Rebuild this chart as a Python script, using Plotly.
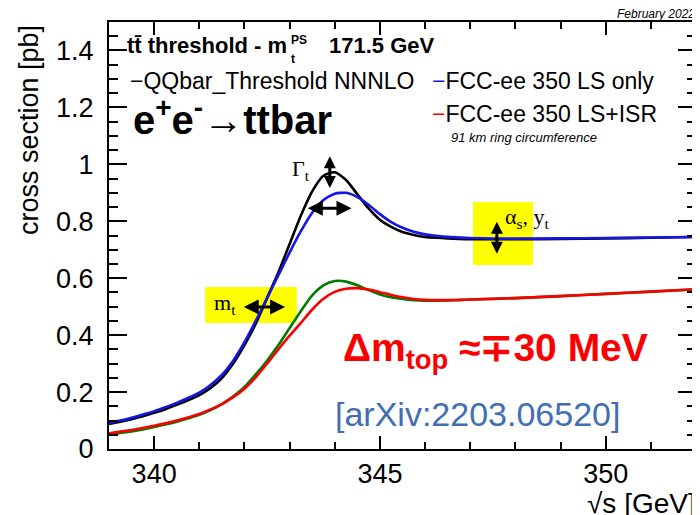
import plotly.graph_objects as go

# ---------------- data ----------------
sqrt_s = [339.00, 339.25, 339.50, 339.75, 340.00, 340.25, 340.50, 340.75,
          341.00, 341.25, 341.50, 341.75, 342.00, 342.25, 342.50, 342.75,
          343.00, 343.25, 343.50, 343.75, 344.00, 344.25, 344.50, 344.75,
          345.00, 345.25, 345.50, 345.75, 346.00, 346.25, 346.50, 346.75,
          347.00, 348.00, 349.00, 350.00, 351.00, 352.00]

qqbar_nnnlo = [0.088, 0.096, 0.105, 0.115, 0.127, 0.140, 0.155, 0.171,
               0.189, 0.214, 0.249, 0.300, 0.365, 0.440, 0.530, 0.620,
               0.720, 0.820, 0.905, 0.960, 0.972, 0.945, 0.895, 0.845,
               0.805, 0.780, 0.762, 0.752, 0.745, 0.742, 0.740, 0.738,
               0.737, 0.737, 0.738, 0.740, 0.742, 0.745]

ls_only = [0.092, 0.100, 0.110, 0.121, 0.133, 0.147, 0.162, 0.179,
           0.198, 0.225, 0.260, 0.310, 0.375, 0.450, 0.530, 0.610,
           0.690, 0.765, 0.830, 0.875, 0.897, 0.900, 0.885, 0.858,
           0.825, 0.797, 0.777, 0.763, 0.754, 0.749, 0.745, 0.743,
           0.741, 0.739, 0.740, 0.741, 0.743, 0.745]

isr_nnnlo = [0.050, 0.056, 0.062, 0.069, 0.077, 0.086, 0.096, 0.107,
             0.120, 0.137, 0.158, 0.185, 0.218, 0.262, 0.310, 0.365,
             0.425, 0.485, 0.540, 0.575, 0.590, 0.588, 0.575, 0.558,
             0.543, 0.533, 0.527, 0.523, 0.521, 0.521, 0.522, 0.523,
             0.525, 0.530, 0.537, 0.545, 0.553, 0.561]

ls_isr = [0.055, 0.061, 0.067, 0.074, 0.082, 0.090, 0.100, 0.111,
          0.123, 0.139, 0.158, 0.182, 0.212, 0.252, 0.300, 0.350,
          0.398, 0.443, 0.490, 0.528, 0.552, 0.563, 0.565, 0.560,
          0.551, 0.541, 0.533, 0.527, 0.524, 0.523, 0.523, 0.524,
          0.525, 0.530, 0.537, 0.545, 0.553, 0.561]

x_tickvals = [340, 345, 350]
x_ticktext = ["340", "345", "350"]
y_tickvals = [0, 0.2, 0.4, 0.6, 0.8, 1.0, 1.2, 1.4]
y_ticktext = ["0", "0.2", "0.4", "0.6", "0.8", "1", "1.2", "1.4"]

# ---------------- layout helpers ----------------
PAGE_OFF = 8                       # browser default body margin
W, H = 700 - PAGE_OFF, 515 - PAGE_OFF
ML, MR, MT, MB = 109 - PAGE_OFF, 4, 22 - PAGE_OFF, 66
PW, PH = W - ML - MR, H - MT - MB


def pxx(px):
    # page pixel -> paper fraction
    return (px - PAGE_OFF - ML) / PW


def pxy(py):
    return (H + PAGE_OFF - MB - py) / PH


SANS = "Liberation Sans, Arial, Helvetica, sans-serif"
SERIF = "Liberation Serif, Times New Roman, serif"

fig = go.Figure()

series = [
    ("QQbar_Threshold NNNLO", qqbar_nnnlo, "black"),
    ("FCC-ee 350 LS only", ls_only, "rgb(20,20,235)"),
    ("FCC-ee 350 LS+ISR (NNNLO)", isr_nnnlo, "rgb(0,125,0)"),
    ("FCC-ee 350 LS+ISR", ls_isr, "rgb(250,0,0)"),
]
for name, vals, col in series:
    fig.add_trace(go.Scatter(x=sqrt_s, y=vals, mode="lines", name=name,
                             line=dict(color=col, width=2.6, shape="spline", smoothing=0.6),
                             showlegend=False, hoverinfo="skip"))

# yellow boxes (data coordinates)
fig.add_shape(type="rect", xref="x", yref="y", x0=347.06, x1=348.39, y0=0.646, y1=0.868,
              fillcolor="rgb(255,255,0)", line=dict(width=0), layer="below")
fig.add_shape(type="rect", xref="x", yref="y", x0=341.13, x1=343.16, y0=0.443, y1=0.569,
              fillcolor="rgb(255,255,0)", line=dict(width=0), layer="below")


# double arrows
def double_arrow(x0, y0, x1, y1, size=1.0):
    fig.add_annotation(x=x1, y=y1, ax=x0, ay=y0, xref="x", yref="y", axref="x", ayref="y",
                       text="", showarrow=True, arrowside="end+start",
                       arrowhead=2, startarrowhead=2, arrowsize=size, startarrowsize=size,
                       arrowwidth=3, arrowcolor="black")


double_arrow(343.89, 0.912, 343.89, 1.028, 0.8)    # Gamma_t vertical
double_arrow(343.37, 0.846, 344.37, 0.846)          # Gamma_t horizontal
double_arrow(347.59, 0.681, 347.59, 0.798, 0.8)    # alpha_s vertical
double_arrow(341.95, 0.499, 342.90, 0.499)          # m_t horizontal


def txt(text, px, py, size, color="black", family=SANS, xanchor="left", yanchor="middle",
        angle=0):
    fig.add_annotation(text=text, x=pxx(px), y=pxy(py), xref="paper", yref="paper",
                       xanchor=xanchor, yanchor=yanchor, showarrow=False, textangle=angle,
                       font=dict(size=size, color=color, family=family))


# title line
txt("<b>tt\u0304 threshold - m</b>", 289, 46, 22, xanchor="right")
txt("<b>PS</b>", 289, 40, 12)
txt("<b>t</b>", 289, 59, 12)
txt("<b>171.5 GeV</b>", 327, 46, 22)

# legend
txt("\u2212QQbar_Threshold NNNLO", 128, 81, 23)
txt("<span style='color:rgb(20,20,235)'>\u2212</span>FCC-ee 350 LS only", 430, 81, 23)
txt("<span style='color:rgb(250,0,0)'>\u2212</span>FCC-ee 350 LS+ISR", 430, 114, 23)
txt("<i>91 km ring circumference</i>", 449, 137, 13)

# process
txt("<b>e<sup>+</sup>e<sup>-</sup>\u2192ttbar</b>", 131, 117, 40)

# parameter labels
txt("\u0393<sub>t</sub>", 290, 170, 22, family=SERIF)
txt("\u03b1<sub>s</sub>, y<sub>t</sub>", 503, 218, 22, family=SERIF)
txt("m<sub>t</sub>", 212, 304, 22, family=SERIF)

# result
txt("<b>\u0394m<sub>top</sub> \u2248\u221330 MeV</b>", 341, 350, 39, color="rgb(250,0,0)")
txt("[arXiv:2203.06520]", 333, 414, 34, color="rgb(66,110,180)")

# corner & axis titles
txt("<i>February 2022</i>", 697, 14, 12, xanchor="right")
txt("cross section [pb]", 29, 130, 27, angle=-90, xanchor="center")
txt("\u221as [GeV]", 698, 504, 28, xanchor="right")

axis_common = dict(showline=True, linewidth=2, linecolor="black", mirror="allticks",
                   ticks="inside", tickwidth=2, tickcolor="black", showgrid=False,
                   zeroline=False, automargin=False,
                   tickfont=dict(size=27, family=SANS, color="black"))

fig.update_xaxes(range=[339, 352], tickvals=x_tickvals, ticktext=x_ticktext, ticklen=13,
                 minor=dict(ticks="inside", dtick=1, tick0=339, ticklen=7, tickwidth=1.6,
                            tickcolor="black", showgrid=False),
                 ticklabelstandoff=0, **axis_common)
fig.update_yaxes(range=[0, 1.5], tickvals=y_tickvals, ticktext=y_ticktext, ticklen=18,
                 minor=dict(ticks="inside", dtick=0.05, tick0=0, ticklen=9, tickwidth=1.6,
                            tickcolor="black", showgrid=False),
                 ticklabelstandoff=8, **axis_common)

fig.update_layout(width=W, height=H, margin=dict(l=ML, r=MR, t=MT, b=MB, autoexpand=False),
                  paper_bgcolor="white", plot_bgcolor="white",
                  font=dict(family=SANS, color="black"), showlegend=False)

fig.write_html("out.html")
